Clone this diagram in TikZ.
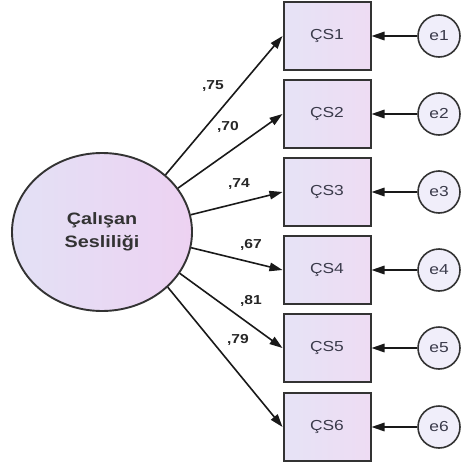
\documentclass[tikz,border=0pt]{standalone}
\usepackage{fontspec}
\setmainfont[FakeStretch=1.2]{Liberation Sans}
\usetikzlibrary{arrows.meta,shapes.geometric}
\definecolor{boxL}{HTML}{E6E3F6}
\definecolor{boxR}{HTML}{EEDCF3}
\definecolor{ellL}{HTML}{E3E1F5}
\definecolor{ellR}{HTML}{EDD2F2}
\definecolor{edge}{HTML}{333333}
\definecolor{txt}{HTML}{3A3A4A}
\begin{document}
\begin{tikzpicture}[x=1pt,y=-1pt,
  lat/.style={ellipse, draw=edge, line width=1.9pt, left color=ellL, right color=ellR,
    minimum width=180pt, minimum height=158pt, inner sep=0pt, align=center,
    font=\fontsize{16.5}{23}\selectfont\bfseries, text=black!80},
  obs/.style={rectangle, draw=edge, line width=2pt, left color=boxL, right color=boxR,
    minimum width=87pt, minimum height=68pt, inner sep=0pt,
    font=\fontsize{14.5}{16}\selectfont, text=txt},
  err/.style={circle, draw=edge, line width=1.6pt, fill=boxL!60!white,
    minimum size=42pt, inner sep=0pt, font=\fontsize{14.5}{16}\selectfont, text=txt},
  path/.style={draw=black!90, line width=1.6pt, -{Triangle[length=13pt,width=8.5pt]}},
  wlab/.style={font=\fontsize{13}{14}\selectfont\bfseries, text=black!85, inner sep=0pt}]
\useasboundingbox (0,0) rectangle (461,466);
\node[lat] (F) at (102,232) {Çalışan\\Sesliliği};
\foreach \i/\y in {1/36,2/114,3/192,4/270,5/348,6/427}{
  \node[obs] (cs\i) at (327,\y) {ÇS\i};
  \node[err] (e\i) at (439,\y) {e\i};
  \draw[path] (e\i) -- (cs\i);
}
\draw[path] (F.42) -- (cs1.west);
\draw[path] (F.30) -- (cs2.west);
\draw[path] (F.11) -- (cs3.west);
\draw[path] (F.-10) -- (cs4.west);
\draw[path] (F.-28) -- (cs5.west);
\draw[path] (F.-40) -- (cs6.west);
\node[wlab] (l1) at (213,86) {,75};
\node[wlab] (l2) at (228,127) {,70};
\node[wlab] (l3) at (239,184) {,74};
\node[wlab] (l4) at (251,245) {,67};
\node[wlab] (l5) at (251,301) {,81};
\node[wlab] (l6) at (238,340) {,79};
\end{tikzpicture}
\end{document}
